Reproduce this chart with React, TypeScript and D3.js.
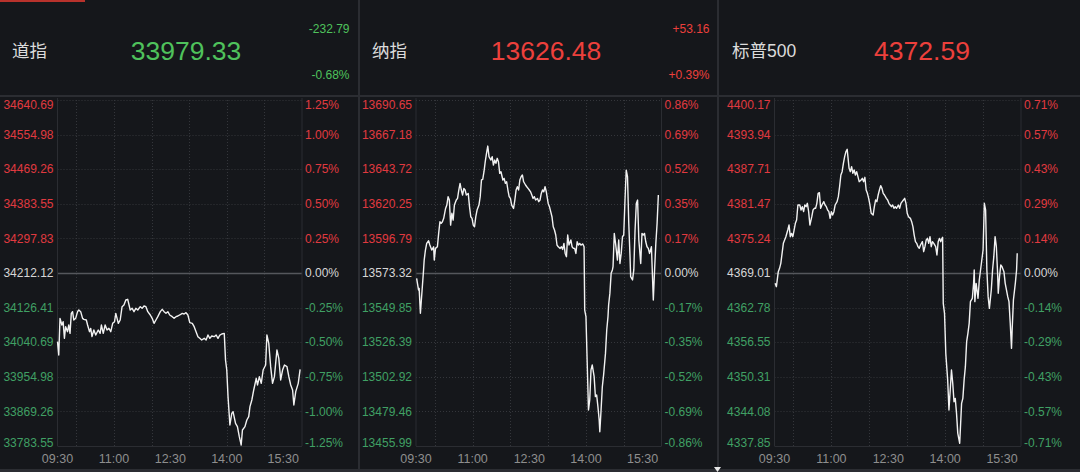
import * as d3 from "d3";
import { useEffect } from "react";

const WIDTH = 1080;
const HEIGHT = 472;
const PLOT_TOP = 100;
const PLOT_BOTTOM = 446;
const SESSION_MINUTES = 390; // 09:30 -> 16:00

const BG = "#15171b";
const LINE_DARK = "#2b2d32";
const GRID = "#34363b";
const RED = "#ec403c";
const GREEN = "#4fc25c";
const AXIS_RED = "#e03a40";
const AXIS_GREEN = "#40a064";
const FONT = "'Liberation Sans', Arial, 'Noto Sans CJK SC', sans-serif";

// minutes after 09:30 / index level
const dowTimes = [
  0, 2, 4, 7, 9, 11, 13, 16, 18, 20, 22, 24, 26, 29, 32, 34, 37, 40, 42, 46,
  48, 51, 53, 55, 58, 61, 65, 68, 70, 73, 76, 79, 82, 85, 88, 91, 93, 97, 100, 103,
  106, 109, 112, 116, 119, 122, 125, 128, 132, 135, 138, 141, 144, 148, 151, 154, 157, 160, 164, 167,
  170, 173, 176, 179, 183, 186, 189, 192, 195, 199, 202, 205, 208, 211, 215, 218, 221, 224, 227, 230,
  234, 237, 240, 243, 246, 250, 253, 256, 259, 262, 266, 268, 270, 272, 275, 278, 280, 284, 287, 290,
  293, 295, 299, 302, 305, 307, 310, 313, 317, 319, 322, 325, 328, 332, 334, 337, 340, 343, 346, 350,
  353, 356, 359, 362, 366, 369, 372, 375, 377, 380, 384, 387,
];
const dowValues = [
  34042.0, 34009.0, 34099.8, 34083.3, 34091.5, 34050.3, 34079.2, 34066.8, 34083.3, 34062.6,
  34112.2, 34116.3, 34095.7, 34099.8, 34116.3, 34120.4, 34116.3, 34099.8, 34097.3, 34095.7,
  34083.3, 34066.8, 34075.0, 34054.4, 34070.9, 34058.5, 34070.9, 34062.6, 34083.3, 34062.6,
  34083.3, 34070.9, 34075.0, 34066.8, 34087.4, 34091.5, 34112.2, 34087.4, 34095.7, 34128.7,
  34132.8, 34145.2, 34146.9, 34120.4, 34124.6, 34116.3, 34124.6, 34120.4, 34128.7, 34124.6,
  34130.4, 34128.7, 34116.3, 34108.1, 34099.8, 34087.4, 34095.7, 34103.9, 34116.3, 34122.1,
  34116.3, 34112.2, 34116.3, 34108.1, 34103.9, 34099.8, 34103.9, 34105.6, 34108.1, 34112.2,
  34110.5, 34113.8, 34108.1, 34089.1, 34087.4, 34079.2, 34066.8, 34054.4, 34050.3, 34046.1,
  34050.3, 34046.1, 34058.5, 34050.3, 34056.0, 34054.4, 34058.5, 34050.3, 34058.5, 34061.0,
  34062.6, 33996.6, 33971.8, 33905.8, 33835.6, 33864.5, 33868.6, 33839.7, 33831.5, 33806.7,
  33786.0, 33823.2, 33831.5, 33848.0, 33856.2, 33881.0, 33897.5, 33922.3, 33951.2, 33934.7,
  33955.3, 33938.8, 33971.8, 33984.2, 34058.5, 34037.9, 33980.1, 33938.8, 33955.3, 34021.4,
  34000.7, 33947.1, 33971.8, 33984.2, 33980.1, 33955.3, 33934.7, 33922.3, 33885.1, 33918.2,
  33938.8, 33973.5,
];

const nasTimes = [
  1, 4, 5, 7, 12, 13, 15, 17, 20, 22, 25, 28, 29, 31, 34, 36, 38, 40, 42, 44,
  47, 49, 51, 53, 55, 57, 59, 61, 64, 66, 68, 70, 72, 74, 76, 78, 80, 83, 85, 87,
  89, 91, 93, 95, 97, 100, 102, 104, 106, 108, 110, 112, 114, 116, 119, 121, 123, 125, 127, 129,
  131, 133, 135, 138, 140, 142, 144, 146, 148, 150, 152, 155, 157, 159, 161, 163, 165, 167, 169, 171,
  174, 176, 178, 180, 182, 184, 186, 188, 190, 193, 195, 197, 199, 201, 203, 205, 207, 210, 212, 214,
  216, 218, 220, 222, 224, 226, 229, 231, 233, 235, 237, 239, 241, 243, 246, 248, 250, 252, 254, 256,
  258, 260, 262, 265, 267, 268, 270, 272, 274, 276, 278, 280, 283, 285, 287, 289, 291, 292, 294, 296,
  298, 301, 303, 305, 306, 308, 310, 312, 313, 315, 317, 320, 322, 324, 326, 328, 330, 332, 334, 336,
  338, 340, 341, 344, 346, 348, 350, 352, 354, 357, 359, 361, 363, 365, 367, 369, 371, 374, 377, 379,
  381, 383, 385,
];
const nasValues = [
  13569.7, 13561.8, 13562.9, 13546.0, 13575.4, 13582.1, 13588.9, 13593.4, 13595.2, 13592.3,
  13588.9, 13591.1, 13582.1, 13590.0, 13591.1, 13600.2, 13608.1, 13607.0, 13608.1, 13610.4,
  13617.1, 13619.4, 13625.1, 13622.8, 13605.8, 13613.8, 13609.2, 13619.4, 13622.8, 13623.9,
  13629.6, 13634.1, 13629.6, 13626.2, 13630.7, 13629.6, 13626.2, 13627.3, 13618.3, 13611.5,
  13610.4, 13605.8, 13604.7, 13611.5, 13616.0, 13619.4, 13625.1, 13636.4, 13636.8, 13642.0,
  13648.8, 13654.4, 13659.4, 13652.2, 13649.9, 13652.2, 13646.5, 13649.9, 13647.7, 13651.1,
  13648.8, 13640.9, 13642.0, 13636.4, 13637.5, 13634.1, 13635.2, 13629.6, 13625.1, 13623.9,
  13619.4, 13617.1, 13622.8, 13629.6, 13631.8, 13629.6, 13636.4, 13638.6, 13639.8, 13635.2,
  13633.0, 13631.8, 13630.7, 13629.6, 13628.4, 13626.2, 13623.9, 13625.1, 13622.8, 13623.9,
  13621.7, 13622.8, 13627.3, 13629.6, 13628.4, 13631.8, 13628.4, 13620.5, 13618.3, 13614.9,
  13611.5, 13604.7, 13602.5, 13599.1, 13592.3, 13591.1, 13590.0, 13591.1, 13589.3, 13593.4,
  13586.6, 13584.4, 13599.1, 13592.3, 13595.7, 13591.1, 13590.0, 13590.0, 13586.6, 13594.5,
  13592.3, 13593.4, 13592.3, 13593.0, 13591.1, 13548.2, 13543.7, 13512.0, 13480.4, 13487.2,
  13507.6, 13510.9, 13503.0, 13489.5, 13490.6, 13482.7, 13473.6, 13465.7, 13480.4, 13496.2,
  13504.1, 13518.8, 13534.7, 13543.7, 13551.6, 13559.5, 13573.1, 13575.4, 13577.6, 13600.2,
  13593.4, 13582.1, 13595.7, 13579.8, 13586.6, 13597.9, 13599.1, 13622.8, 13643.1, 13638.6,
  13607.0, 13584.4, 13570.8, 13568.6, 13575.4, 13602.5, 13620.5, 13622.8, 13595.7, 13579.8,
  13600.2, 13599.1, 13600.2, 13594.5, 13591.1, 13590.0, 13586.6, 13591.1, 13555.0, 13575.4,
  13593.4, 13607.0, 13626.2,
];

const spxTimes = [
  1, 3, 5, 6, 8, 10, 12, 14, 16, 18, 21, 23, 25, 27, 29, 31, 33, 35, 37, 40,
  42, 44, 46, 48, 50, 52, 54, 56, 59, 61, 63, 65, 67, 69, 71, 73, 75, 78, 80, 82,
  84, 86, 88, 90, 92, 94, 96, 99, 101, 103, 105, 107, 109, 111, 113, 115, 118, 120, 122, 124,
  126, 128, 130, 132, 134, 137, 139, 141, 143, 145, 147, 149, 151, 153, 156, 158, 160, 162, 164, 166,
  168, 170, 172, 174, 177, 179, 181, 183, 185, 187, 189, 191, 193, 196, 198, 200, 202, 204, 206, 208,
  210, 212, 215, 217, 219, 221, 223, 225, 227, 229, 231, 234, 236, 238, 240, 242, 244, 246, 248, 250,
  252, 255, 257, 259, 261, 263, 265, 266, 267, 269, 271, 274, 276, 278, 280, 282, 284, 286, 288, 290,
  293, 294, 296, 298, 300, 302, 304, 306, 308, 310, 313, 315, 316, 317, 319, 322, 324, 326, 328, 330,
  332, 334, 336, 338, 340, 343, 345, 347, 349, 351, 353, 354, 356, 358, 360, 363, 365, 367, 369, 371,
  373, 375, 376, 378, 381, 383, 384,
];
const spxValues = [
  4367.15, 4366.55, 4368.35, 4369.25, 4369.85, 4370.75, 4372.55, 4374.35, 4374.95, 4375.55,
  4376.75, 4377.65, 4375.55, 4376.15, 4375.55, 4376.75, 4377.95, 4378.55, 4381.26, 4381.26,
  4380.36, 4380.96, 4380.06, 4381.26, 4380.96, 4381.56, 4380.06, 4377.65, 4379.15, 4380.36,
  4380.66, 4380.66, 4381.56, 4383.36, 4383.48, 4380.66, 4381.26, 4381.86, 4381.26, 4380.96,
  4380.36, 4380.06, 4378.85, 4380.06, 4379.45, 4380.06, 4381.26, 4381.86, 4382.76, 4384.56,
  4386.66, 4387.26, 4388.76, 4389.96, 4390.86, 4391.28, 4387.86, 4387.26, 4388.16, 4386.96,
  4387.56, 4386.66, 4387.26, 4386.36, 4385.46, 4385.76, 4386.06, 4385.46, 4386.24, 4383.96,
  4383.36, 4382.46, 4381.26, 4379.76, 4379.45, 4380.96, 4382.16, 4381.86, 4383.06, 4383.96,
  4384.74, 4384.26, 4383.36, 4383.06, 4382.46, 4382.16, 4381.56, 4381.26, 4380.96, 4381.26,
  4380.66, 4380.96, 4380.66, 4381.26, 4380.66, 4381.56, 4381.86, 4382.16, 4382.46, 4381.56,
  4379.76, 4379.15, 4378.85, 4378.25, 4377.35, 4375.85, 4374.65, 4374.35, 4373.75, 4373.45,
  4374.05, 4374.65, 4372.85, 4373.75, 4374.95, 4375.25, 4374.35, 4375.55, 4373.75, 4374.65,
  4374.35, 4373.75, 4372.25, 4374.65, 4375.25, 4374.65, 4375.25, 4375.43, 4363.55, 4361.74,
  4354.54, 4349.74, 4344.33, 4347.94, 4351.54, 4349.14, 4345.83, 4346.43, 4343.73, 4340.13,
  4338.33, 4340.73, 4345.53, 4346.43, 4349.74, 4352.14, 4356.64, 4358.14, 4359.94, 4363.85,
  4364.45, 4367.15, 4369.55, 4363.85, 4367.15, 4364.45, 4367.75, 4369.55, 4371.35, 4373.15,
  4381.56, 4380.36, 4369.55, 4364.75, 4362.65, 4365.95, 4369.55, 4371.95, 4375.55, 4373.75,
  4368.95, 4365.35, 4368.35, 4370.45, 4370.15, 4369.25, 4367.15, 4365.95, 4364.75, 4363.85,
  4359.94, 4355.44, 4358.74, 4364.15, 4367.15, 4369.55, 4372.55,
];

const dowLeftTicks = ["34640.69", "34554.98", "34469.26", "34383.55", "34297.83", "34212.12", "34126.41", "34040.69", "33954.98", "33869.26", "33783.55"];
const dowRightTicks = ["1.25%", "1.00%", "0.75%", "0.50%", "0.25%", "0.00%", "-0.25%", "-0.50%", "-0.75%", "-1.00%", "-1.25%"];
const nasLeftTicks = ["13690.65", "13667.18", "13643.72", "13620.25", "13596.79", "13573.32", "13549.85", "13526.39", "13502.92", "13479.46", "13455.99"];
const nasRightTicks = ["0.86%", "0.69%", "0.52%", "0.35%", "0.17%", "0.00%", "-0.17%", "-0.35%", "-0.52%", "-0.69%", "-0.86%"];
const spxLeftTicks = ["4400.17", "4393.94", "4387.71", "4381.47", "4375.24", "4369.01", "4362.78", "4356.55", "4350.31", "4344.08", "4337.85"];
const spxRightTicks = ["0.71%", "0.57%", "0.43%", "0.29%", "0.14%", "0.00%", "-0.14%", "-0.29%", "-0.43%", "-0.57%", "-0.71%"];

const timeLabels = ["09:30", "11:00", "12:30", "14:00", "15:30"];
const hourLines = ["10:00", "11:00", "12:00", "13:00", "14:00", "15:00"];

const toMinutes = (t: string) => {
  const [h, m] = t.split(":").map(Number);
  return h * 60 + m - (9 * 60 + 30);
};

type Panel = {
  name: string;
  last: string;
  change?: string;
  changePct?: string;
  times: number[];
  values: number[];
  leftTicks: string[];
  rightTicks: string[];
  // layout
  ox: number;
  plotLeft: number;
  plotRight: number;
  valueX: number;
};

const panels: Panel[] = [
  { name: "道指", last: "33979.33", change: "-232.79", changePct: "-0.68%", times: dowTimes, values: dowValues, leftTicks: dowLeftTicks, rightTicks: dowRightTicks, ox: 0, plotLeft: 57.5, plotRight: 302, valueX: 186 },
  { name: "纳指", last: "13626.48", change: "+53.16", changePct: "+0.39%", times: nasTimes, values: nasValues, leftTicks: nasLeftTicks, rightTicks: nasRightTicks, ox: 360, plotLeft: 56, plotRight: 301.5, valueX: 186 },
  { name: "标普500", last: "4372.59", times: spxTimes, values: spxValues, leftTicks: spxLeftTicks, rightTicks: spxRightTicks, ox: 720, plotLeft: 54.5, plotRight: 301, valueX: 202 },
];

function IndexPanel({ p }: { p: Panel }) {
  const top = Number(p.leftTicks[0]);
  const bottom = Number(p.leftTicks[p.leftTicks.length - 1]);
  const prev = Number(p.leftTicks[(p.leftTicks.length - 1) / 2]);
  const x = d3.scaleLinear().domain([0, SESSION_MINUTES]).range([p.plotLeft, p.plotRight]);
  const y = d3.scaleLinear().domain([bottom, top]).range([PLOT_BOTTOM, PLOT_TOP]);
  const line = d3
    .line<[number, number]>()
    .x((d) => x(d[0]))
    .y((d) => y(d[1]));
  const pts = d3.zip(p.times, p.values) as [number, number][];
  const lastNum = Number(p.last);
  const headColor = lastNum < prev ? GREEN : RED;
  const n = p.leftTicks.length;

  const tickColor = (v: number) => (v > prev ? AXIS_RED : v < prev ? AXIS_GREEN : "#d6d6d6");
  const baseline = (i: number, yy: number) => (i === 0 ? yy + 9 : i === n - 1 ? yy + 1 : yy + 4.2);

  return (
    <g transform={`translate(${p.ox},0)`} fontFamily={FONT}>
      <text x={12} y={57} fill="#dcdcdc" fontSize={17.5}>
        {p.name}
      </text>
      <text x={p.valueX} y={60} fill={headColor} fontSize={26.5} textAnchor="middle">
        {p.last}
      </text>
      {p.change && (
        <text x={349.5} y={32.5} fill={headColor} fontSize={12} textAnchor="end">
          {p.change}
        </text>
      )}
      {p.changePct && (
        <text x={349.5} y={78.5} fill={headColor} fontSize={12} textAnchor="end">
          {p.changePct}
        </text>
      )}

      {/* grid */}
      {p.leftTicks.map((t, i) => {
        const v = Number(t);
        const yy = Math.round(y(v)) + 0.5;
        const isZero = i === (n - 1) / 2;
        const isEdge = i === n - 1;
        return (
          <line
            key={"h" + i}
            x1={p.plotLeft}
            x2={p.plotRight}
            y1={yy}
            y2={yy}
            stroke={isZero ? "#55575c" : isEdge ? LINE_DARK : GRID}
            strokeWidth={isZero ? 1.5 : 1}
            strokeDasharray={isZero || isEdge ? undefined : "1 2"}
          />
        );
      })}
      {hourLines.map((t) => {
        const xx = Math.round(x(toMinutes(t))) + 0.5;
        return (
          <line key={"v" + t} x1={xx} x2={xx} y1={PLOT_TOP} y2={PLOT_BOTTOM} stroke={GRID} strokeDasharray="1 2" />
        );
      })}
      {[p.plotLeft, p.plotRight].map((xx, i) => (
        <line key={"b" + i} x1={xx} x2={xx} y1={PLOT_TOP - 2} y2={PLOT_BOTTOM} stroke={LINE_DARK} />
      ))}

      {/* y labels */}
      {p.leftTicks.map((t, i) => {
        const v = Number(t);
        return (
          <text key={"l" + i} x={p.plotLeft - 4} y={baseline(i, y(v))} fontSize={12} textAnchor="end" fill={tickColor(v)}>
            {t}
          </text>
        );
      })}
      {p.rightTicks.map((t, i) => {
        const v = Number(p.leftTicks[i]);
        return (
          <text key={"r" + i} x={p.plotRight + 3} y={baseline(i, y(v))} fontSize={12} fill={tickColor(v)}>
            {t}
          </text>
        );
      })}

      {/* x labels */}
      {timeLabels.map((t) => (
        <text key={"t" + t} x={x(toMinutes(t))} y={462.5} fontSize={12.5} textAnchor="middle" fill="#8e8e8e">
          {t}
        </text>
      ))}

      <path d={line(pts) ?? ""} fill="none" stroke="#f2f2f2" strokeWidth={1.4} strokeLinejoin="round" />
    </g>
  );
}

export default function App() {
  useEffect(() => {
    document.body.style.margin = "0";
    document.body.style.background = BG;
  }, []);

  return (
    <svg width={WIDTH} height={HEIGHT} style={{ display: "block", background: BG }}>
      <rect x={0} y={0} width={WIDTH} height={HEIGHT} fill={BG} />
      <rect x={0} y={0} width={85} height={2} fill="#b8322c" />
      {panels.map((p) => (
        <IndexPanel key={p.name} p={p} />
      ))}
      <rect x={0} y={95} width={WIDTH} height={2} fill={LINE_DARK} />
      <rect x={358} y={0} width={2} height={469} fill={LINE_DARK} />
      <rect x={717} y={0} width={2} height={469} fill={LINE_DARK} />
      <rect x={0} y={469} width={WIDTH} height={3} fill={LINE_DARK} />
      <path d="M714,467 L721,467 L717.5,472 Z" fill="#e8e8e8" />
    </svg>
  );
}
